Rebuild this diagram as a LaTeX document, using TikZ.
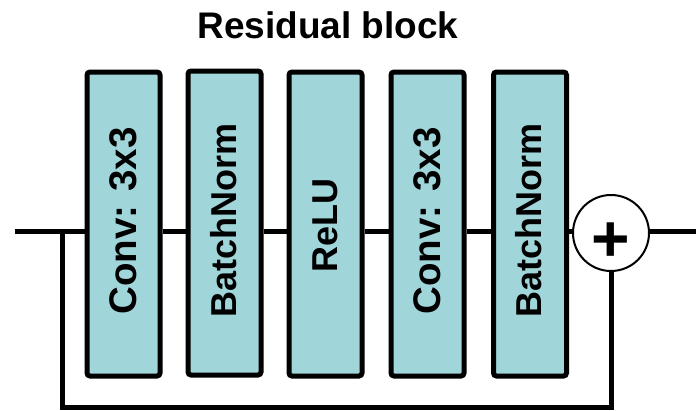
\documentclass[tikz,border=0pt]{standalone}
\usepackage{fontspec}
\setmainfont{Liberation Sans}
\definecolor{boxfill}{RGB}{160,213,217}
\begin{document}
\begin{tikzpicture}[x=1pt,y=1pt,
  blk/.style={draw=black, line width=5pt, fill=boxfill, rounded corners=3pt,
    minimum width=73pt, minimum height=304pt, inner sep=0pt},
  lbl/.style={rotate=90, font=\fontsize{36}{40}\selectfont\bfseries, inner sep=0pt},
  wire/.style={line width=5pt, black},
  sumc/.style={circle, draw=black, line width=2pt, fill=white, minimum size=76pt, inner sep=0pt}]
\useasboundingbox (0,-410) rectangle (696,0);
\node[anchor=base, font=\fontsize{37}{40}\selectfont\bfseries, inner sep=0pt] (title) at (328,-38) {Residual block};
\coordinate (in) at (15,-231);
\coordinate (out) at (696,-231);
\coordinate (sk) at (62,-231);
\coordinate (bot) at (62,-407);
% blocks
\node[blk] (b1) at (123.5,-224) {};
\node[blk] (b2) at (224.5,-223) {};
\node[blk] (b3) at (325.5,-224) {};
\node[blk] (b4) at (427.5,-224) {};
\node[blk] (b5) at (530,-224) {};
\node[lbl, font=\fontsize{38.5}{40}\selectfont\bfseries] (t1) at (123,-221) {Conv: 3x3};
\node[lbl] (t2) at (224,-220) {BatchNorm};
\node[lbl] (t3) at (325,-225) {ReLU};
\node[lbl, font=\fontsize{38.5}{40}\selectfont\bfseries] (t4) at (427,-221) {Conv: 3x3};
\node[lbl] (t5) at (529,-220) {BatchNorm};
\node[sumc] (sum) at (611,-233) {};
\node[font=\fontsize{66}{66}\selectfont\bfseries, inner sep=0pt] (plus) at (611,-242) {+};
% connectors
\draw[wire] (in) -- (b1.west |- in);
\draw[wire] (b1.east |- in) -- (b2.west |- in);
\draw[wire] (b2.east |- in) -- (b3.west |- in);
\draw[wire] (b3.east |- in) -- (b4.west |- in);
\draw[wire] (b4.east |- in) -- (b5.west |- in);
\draw[wire] (b5.east |- in) -- (sum.west |- in);
\draw[wire] (sum.east |- in) -- (out);
\draw[wire] (sk) -- (bot) -| (sum.south);
\end{tikzpicture}
\end{document}
